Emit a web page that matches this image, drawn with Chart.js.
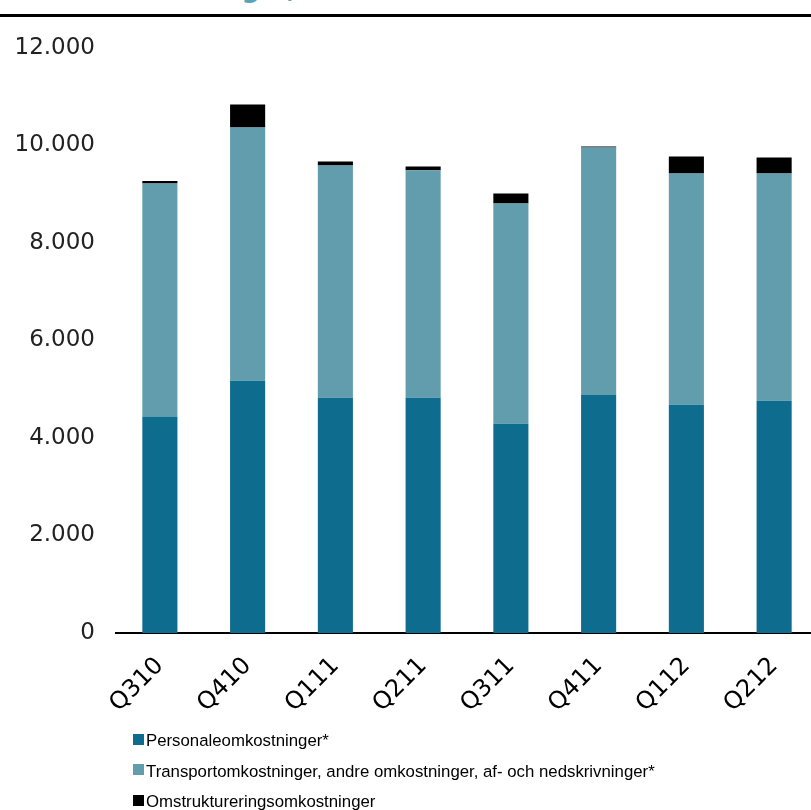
<!DOCTYPE html>
<html>
<head>
<meta charset="utf-8">
<script src="https://cdn.jsdelivr.net/npm/chart.js@4"></script>
<style>
    body { margin: 0; width: 811px; height: 810px; overflow: hidden; background: #fff; position: relative; }
    #title { position: absolute; left: 84px; top: -27px; font: bold 26px/30px "DejaVu Sans", sans-serif; color: #5aa4bb; white-space: nowrap; }
    #topLine { position: absolute; left: 0; top: 14px; width: 811px; height: 3px; background: #000; }
    #wrap { position: absolute; left: 0; top: 0; width: 818px; height: 729px; }
    #legend { position: absolute; left: 133px; top: 726px; font: 16.8px "Liberation Sans", Arial, sans-serif; color: #000; }
    .item { height: 30.5px; display: flex; align-items: center; }
    .box { width: 11px; height: 11px; margin-right: 2px; margin-top: -4px; }
</style>
</head>
<body>
<div id="title">Omkostninger, mio. kr.</div>
<div id="topLine"></div>
<div id="wrap"><canvas id="costChart"></canvas></div>
<div id="legend"></div>
<script>
// Data
const quarters = ['Q310', 'Q410', 'Q111', 'Q211', 'Q311', 'Q411', 'Q112', 'Q212'];
const personale = [4440, 5175, 4825, 4825, 4290, 4890, 4680, 4765];
const transport = [4780, 5195, 4765, 4665, 4520, 5070, 4745, 4660];
const omstrukturering = [50, 470, 80, 80, 205, 20, 350, 330];
const seriesNames = [
    'Personaleomkostninger*',
    'Transportomkostninger, andre omkostninger, af- och nedskrivninger*',
    'Omstruktureringsomkostninger'
];
const seriesColors = ['#0e6d8f', '#629dad', '#000000'];
const yTicks = [0, 2000, 4000, 6000, 8000, 10000, 12000];

const ctx = document.getElementById('costChart').getContext('2d');
const costChart = new Chart(ctx, {
    type: 'bar',
    data: {
        labels: quarters,
        datasets: [personale, transport, omstrukturering].map((vals, i) => ({
            label: seriesNames[i],
            data: vals,
            backgroundColor: seriesColors[i],
            borderWidth: 0,
            barPercentage: 0.4,
            categoryPercentage: 1
        }))
    },
    options: {
        responsive: true,
        maintainAspectRatio: false,
        animation: false,
        layout: { padding: { top: 48, left: 0, right: 0, bottom: 0 } },
        plugins: { legend: { display: false }, tooltip: { enabled: false } },
        scales: {
            x: {
                stacked: true,
                grid: { display: false },
                border: { display: true, color: '#000', width: 2 },
                ticks: {
                    color: '#000',
                    minRotation: 45,
                    maxRotation: 45,
                    padding: 11,
                    font: { family: 'DejaVu Sans', size: 24 }
                },
                // let the rotated first label hang out to the left like the original
                afterFit: scale => { scale.paddingLeft = 0; scale.paddingRight = 0; }
            },
            y: {
                stacked: true,
                min: 0,
                max: 12000,
                afterBuildTicks: axis => { axis.ticks = yTicks.map(v => ({ value: v })); },
                afterFit: scale => { scale.width = 116; },
                grid: { display: false },
                border: { display: false },
                ticks: {
                    color: '#222',
                    padding: 13,
                    font: { family: 'DejaVu Sans', size: 23 },
                    callback: v => v.toLocaleString('da-DK')
                }
            }
        }
    }
});

// Legend built from the datasets
const legend = document.getElementById('legend');
costChart.data.datasets.forEach(ds => {
    const item = document.createElement('div');
    item.className = 'item';
    item.innerHTML = '<span class="box" style="background:' + ds.backgroundColor + '"></span>' + ds.label;
    legend.appendChild(item);
});
</script>
</body>
</html>
